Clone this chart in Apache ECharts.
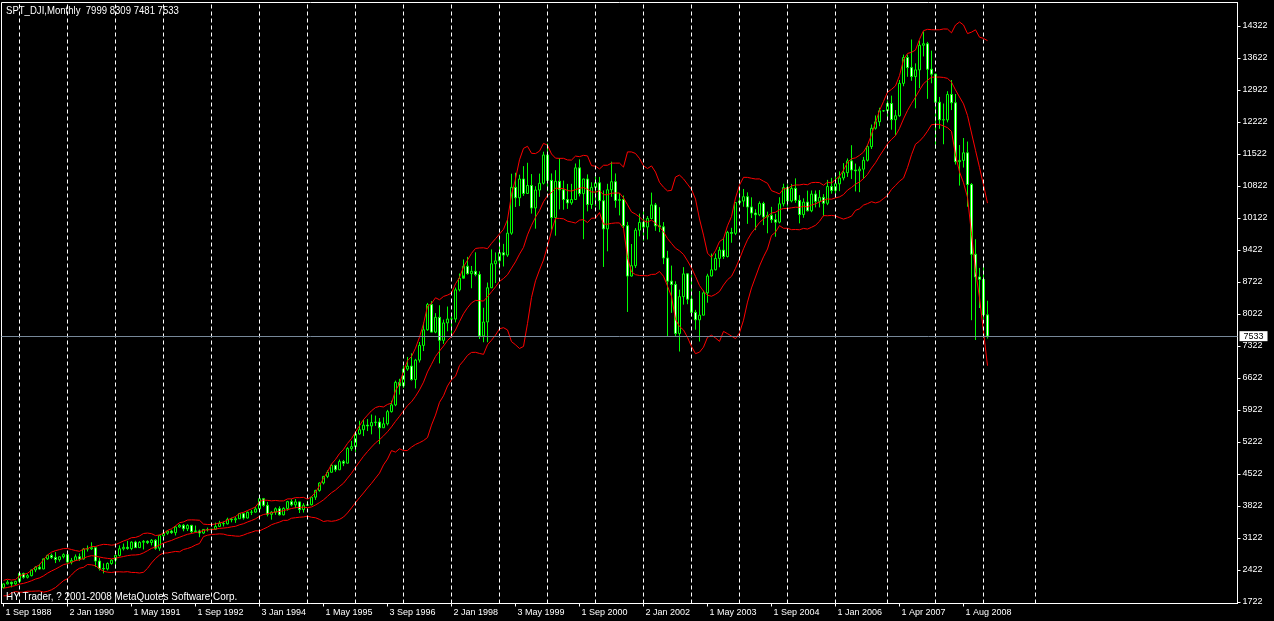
<!DOCTYPE html>
<html>
<head>
<meta charset="utf-8">
<script src="https://cdn.jsdelivr.net/npm/echarts@6/dist/echarts.min.js"></script>
<style>
html,body{margin:0;padding:0;background:#000;}
#chart{width:1274px;height:621px;}
</style>
</head>
<body>
<div id="chart"></div>
<script>
// ---------------- DATA ----------------
const symbolName = 'SPT_DJI';
const periodName = 'Monthly';
const copyrightText = 'HY Trader, ? 2001-2008 MetaQuotes Software Corp.';

// first bar month and the duplicated bar found in the feed
const startYear = 1988, startMonth = 9;
const extraBarAfter = '2006-12';
const totalSlots = 309; // bars visible across the chart incl. empty shift area

// closes before the first visible bar (Oct 1987 .. Aug 1988), used by the bands
const preCloses = [1994,1834,1939,1958,2072,1988,2032,2031,2142,2129,2032];

const opens = [
 2032,2113,2149,2115,
 2169,2342,2258,2294,2419,2480,2440,2661,2737,2693,2645,2706,
 2753,2591,2627,2707,2657,2877,2881,2905,2614,2452,2442,2560,
 2634,2736,2882,2914,2888,3028,2907,3025,3044,3017,3069,2895,
 3169,3223,3268,3235,3359,3397,3319,3394,3257,3272,3226,3305,
 3301,3310,3371,3435,3428,3527,3516,3539,3651,3555,3681,3684,
 3754,3978,3832,3636,3682,3758,3625,3765,3913,3843,3908,3739,
 3834,3844,4011,4158,4321,4465,4556,4708,4611,4789,4755,5074,
 5117,5395,5486,5587,5569,5643,5655,5529,5616,5882,6029,6522,
 6448,6813,6878,6583,7009,7331,7673,8223,7622,7945,7442,7823,
 7908,7907,8546,8800,9063,8900,8952,8883,7539,7843,8592,9117,
 9181,9359,9307,9786,10789,10560,10971,10655,10829,10337,10730,10878,
 11497,10941,10128,10922,10734,10522,10448,10522,11215,10651,10971,10414,
 10788,10887,10495,9879,10735,10912,10502,10523,9950,8848,9075,9852,
 10022,9920,10106,10404,9946,9925,9243,8737,8664,7592,8397,8896,
 8342,8054,7891,7992,8480,8850,8985,9234,9416,9275,9801,9782,
 10454,10488,10584,10358,10226,10188,10435,10140,10174,10080,10027,10428,
 10783,10490,10766,10504,10193,10467,10275,10641,10482,10569,10440,10806,
 10718,10865,10993,11109,11367,11168,11150,11186,11381,11679,12081,12222,12463,
 12463,12622,12269,12354,13063,13628,13409,13212,13358,13896,13930,13372,
 13265,12650,12266,12263,12820,12638,11350,11378,11544,10851,9325,8829,
 8772,7999
];
const highs = [
 2125,2194,2165,2184,
 2350,2360,2334,2424,2504,2553,2672,2753,2777,2809,2716,2782,
 2834,2682,2758,2780,2900,2953,3024,2929,2681,2563,2584,2654,
 2751,2956,2997,3055,3045,3057,3047,3072,3066,3095,3094,3188,
 3290,3290,3301,3382,3420,3424,3420,3405,3390,3301,3315,3345,
 3325,3455,3493,3479,3562,3560,3578,3664,3666,3697,3732,3797,
 3996,3994,3907,3705,3788,3811,3790,3931,3967,3969,3914,3880,
 3932,4022,4172,4335,4475,4600,4736,4716,4835,4826,5105,5243,
 5415,5683,5707,5719,5819,5796,5741,5758,5920,6120,6560,6600,
 6880,7079,7158,7037,7405,7830,8260,8299,8037,8209,7895,8181,
 7984,8596,8904,9211,9268,9069,9367,8951,8154,8706,9430,9365,
 9675,9552,10085,11086,11107,11066,11252,11326,11079,10813,11089,11568,
 11750,11093,11164,11425,10936,10864,10865,11310,11401,10977,11072,10899,
 11021,11017,10720,10866,11350,11093,10661,10610,10033,9549,9898,10213,
 10259,10160,10673,10447,10355,10028,9400,9077,8734,8550,9043,8910,
 8869,8109,8521,8531,8898,9340,9342,9486,9687,9837,9903,10462,
 10754,10753,10679,10570,10309,10480,10474,10257,10362,10210,10572,10868,
 10854,10863,10985,10617,10548,10717,10720,10720,10729,10640,10952,10996,
 11043,11138,11318,11420,11710,11308,11246,11454,11718,12163,12361,12529,12480,
 12687,12795,12480,13136,13692,13692,14022,13500,14000,14198,13970,13779,
 13280,12767,12622,12891,13136,12830,11714,11867,11790,10882,9654,9026,
 9088,8309
];
const lows = [
 2016,2102,2038,2093,
 2127,2227,2232,2278,2370,2429,2437,2641,2659,2569,2600,2671,
 2537,2542,2618,2618,2647,2822,2857,2484,2406,2344,2409,2534,
 2447,2712,2845,2861,2852,2902,2900,2867,2985,2955,2860,2837,
 3148,3189,3208,3173,3344,3265,3270,3220,3237,3136,3206,3260,
 3242,3292,3361,3370,3412,3460,3449,3539,3520,3545,3619,3672,
 3717,3803,3590,3520,3626,3611,3612,3717,3811,3770,3664,3675,
 3815,3832,3951,4131,4290,4427,4547,4567,4602,4690,4749,5025,
 5000,5376,5347,5457,5386,5570,5170,5531,5580,5862,6001,6255,
 6400,6775,6561,6391,6956,7207,7652,7617,7598,6937,7365,7640,
 7542,7833,8512,8860,8880,8581,8842,7470,7400,7400,8585,8695,
 9007,9057,9268,9751,10359,10378,10601,10645,10214,9885,10581,10851,
 10701,9863,9731,10306,10299,10317,10407,10514,10590,9654,10263,10318,
 10377,10299,9047,9389,10581,10342,10175,9891,8062,8836,9027,9717,
 9620,9648,10089,9838,9808,9109,7532,8043,7529,7197,8223,8232,
 7959,7673,7416,7989,8265,8838,8972,9040,9222,9254,9577,9743,
 10393,10363,9990,10117,9852,10158,9962,9784,10011,9708,10000,10371,
 10368,10460,10450,10000,10123,10263,10245,10350,10350,10156,10400,10650,
 10631,10705,10940,11017,10972,10698,10683,10975,11353,11627,12052,12126,12440,
 12322,12050,11926,12333,13000,13207,13119,12518,12958,13652,12724,13065,
 11635,12069,11731,12210,12479,11287,10827,11221,10365,7882,7449,8149,
 7909,7481
];
const closes = [
 2113,2149,2115,2169,
 2342,2258,2294,2419,2480,2440,2661,2737,2693,2645,2706,2753,
 2591,2627,2707,2657,2877,2881,2905,2614,2452,2442,2560,2634,
 2736,2882,2914,2888,3028,2907,3025,3044,3017,3069,2895,3169,
 3223,3268,3235,3359,3397,3319,3394,3257,3272,3226,3305,3301,
 3310,3371,3435,3428,3527,3516,3539,3651,3555,3681,3684,3754,
 3978,3832,3636,3682,3758,3625,3765,3913,3843,3908,3739,3834,
 3844,4011,4158,4321,4465,4556,4708,4611,4789,4755,5074,5117,
 5395,5486,5587,5569,5643,5655,5529,5616,5882,6029,6522,6448,
 6813,6878,6583,7009,7331,7673,8223,7622,7945,7442,7823,7908,
 7907,8546,8800,9063,8900,8952,8883,7539,7843,8592,9117,9181,
 9359,9307,9786,10789,10560,10971,10655,10829,10337,10730,10878,11497,
 10941,10128,10922,10734,10522,10448,10522,11215,10651,10971,10414,10788,
 10887,10495,9879,10735,10912,10502,10523,9950,8848,9075,9852,10022,
 9920,10106,10404,9946,9925,9243,8737,8664,7592,8397,8896,8342,
 8054,7891,7992,8480,8850,8985,9234,9416,9275,9801,9782,10454,
 10488,10584,10358,10226,10188,10435,10140,10174,10080,10027,10428,10783,
 10490,10766,10504,10193,10467,10275,10641,10482,10569,10440,10806,10718,
 10865,10993,11109,11367,11168,11150,11186,11381,11679,12081,12222,12463,12463,
 12622,12269,12354,13063,13628,13409,13212,13358,13896,13930,13372,13265,
 12650,12266,12263,12820,12638,11350,11378,11544,10851,9325,8829,8776,
 8001,7533
];

// x-axis tick labels (one every 16 bars)
const xTickLabels = ['1 Sep 1988','2 Jan 1990','1 May 1991','1 Sep 1992','3 Jan 1994','1 May 1995',
 '3 Sep 1996','2 Jan 1998','3 May 1999','1 Sep 2000','2 Jan 2002','1 May 2003','1 Sep 2004',
 '1 Jan 2006','1 Apr 2007','1 Aug 2008'];
const xTickStep = 16;

// y-axis tick labels
const yTicks = [1722,2422,3122,3822,4522,5222,5922,6622,7322,8022,8722,9422,10122,10822,11522,12222,12922,13622,14322];
const yMin = 1685, yMax = 14832;

// months on which the dashed grid is drawn
const gridMonths = ['1989-01','1990-01','1991-01','1992-01','1993-01','1994-01','1995-01','1996-01','1997-01',
 '1998-01','1999-01','2000-01','2001-01','2002-01','2003-01','2004-01','2005-01','2006-01','2007-01',
 '2008-01','2009-01','2010-02'];

const bandPeriod = 12, bandDev = 2;

// ---------------- BUILD ----------------
const cats = [];
{
  let y = startYear, m = startMonth;
  while (cats.length < totalSlots) {
    const key = y + '-' + String(m).padStart(2, '0');
    cats.push(key);
    if (key === extraBarAfter) cats.push(key + 'b');
    m++; if (m > 12) { m = 1; y++; }
  }
}

const candleData = opens.map((o, i) => [o, closes[i], lows[i], highs[i]]);

const allCloses = preCloses.concat(closes);
const upper = [], middle = [], lower = [];
for (let i = 0; i < closes.length; i++) {
  const end = i + preCloses.length;
  const win = allCloses.slice(end - bandPeriod + 1, end + 1);
  const mean = win.reduce((a, b) => a + b, 0) / win.length;
  const sd = Math.sqrt(win.reduce((a, b) => a + (b - mean) * (b - mean), 0) / win.length);
  middle.push(+mean.toFixed(2));
  upper.push(+(mean + bandDev * sd).toFixed(2));
  lower.push(+(mean - bandDev * sd).toFixed(2));
}

const last = closes.length - 1;
const header = symbolName + ',' + periodName + '  ' + opens[last] + ' ' + highs[last] + ' ' + lows[last] + ' ' + closes[last];

const FONT = "'Liberation Sans', Arial, sans-serif";
const labelInterval = (idx) => idx % xTickStep === 0 && idx / xTickStep < xTickLabels.length;

const chart = echarts.init(document.getElementById('chart'), null, {renderer: 'canvas'});
chart.setOption({
  backgroundColor: '#000000',
  animation: false,
  grid: {left: 1.5, top: 2.5, width: 1236, height: 601, show: true, borderColor: '#ffffff', borderWidth: 1},
  xAxis: {
    type: 'category', data: cats, boundaryGap: true,
    axisLine: {show: true, lineStyle: {color: '#ffffff', width: 1}},
    axisTick: {show: true, alignWithLabel: true, interval: labelInterval, length: 3, lineStyle: {color: '#ffffff'}},
    axisLabel: {
      show: true, interval: labelInterval, color: '#ffffff', fontSize: 9, fontFamily: FONT,
      align: 'left', margin: 5, padding: [0, 0, 0, 2],
      formatter: (v, idx) => xTickLabels[idx / xTickStep] || ''
    },
    splitLine: {show: false}
  },
  yAxis: {
    type: 'value', position: 'right', min: yMin, max: yMax,
    axisLine: {show: true, lineStyle: {color: '#ffffff', width: 1}},
    axisTick: {show: true, customValues: yTicks, length: 3, lineStyle: {color: '#ffffff'}},
    axisLabel: {show: true, customValues: yTicks, color: '#ffffff', fontSize: 9, fontFamily: FONT, margin: 5,
      formatter: v => String(v)},
    splitLine: {show: false}
  },
  graphic: [
    {type: 'text', x: 6, y: 5, scaleX: 0.87, z: 100, style: {text: header, fill: '#ffffff', font: '11px ' + FONT}},
    {type: 'text', x: 6, y: 591, scaleX: 0.9, z: 100, style: {text: copyrightText, fill: '#ffffff', font: '11px ' + FONT}}
  ],
  series: [
    {
      name: 'grid', type: 'line', data: [], z: 1, silent: true,
      markLine: {
        silent: true, symbol: 'none', animation: false,
        label: {show: false},
        lineStyle: {color: '#ffffff', type: [4, 3], width: 1},
        data: gridMonths.map(k => ({xAxis: k}))
      }
    },
    {
      name: symbolName, type: 'candlestick', data: candleData, barWidth: 2, z: 2,
      itemStyle: {color: '#000000', color0: '#ffffff', borderColor: '#00ff00', borderColor0: '#00ff00', borderWidth: 1},
      markLine: {
        silent: true, symbol: 'none', animation: false,
        lineStyle: {color: '#778899', type: 'solid', width: 1},
        label: {show: true, position: 'end', formatter: String(closes[last]), color: '#000000',
          backgroundColor: '#ffffff', padding: [1, 4, 0, 4], fontSize: 9, fontFamily: FONT, distance: 2},
        data: [{yAxis: closes[last]}]
      }
    },
    {name: 'upper', type: 'line', data: upper, showSymbol: false, z: 3, lineStyle: {color: '#ff0000', width: 1}},
    {name: 'middle', type: 'line', data: middle, showSymbol: false, z: 3, lineStyle: {color: '#ff0000', width: 1}},
    {name: 'lower', type: 'line', data: lower, showSymbol: false, z: 3, lineStyle: {color: '#ff0000', width: 1}}
  ]
});
</script>
</body>
</html>
